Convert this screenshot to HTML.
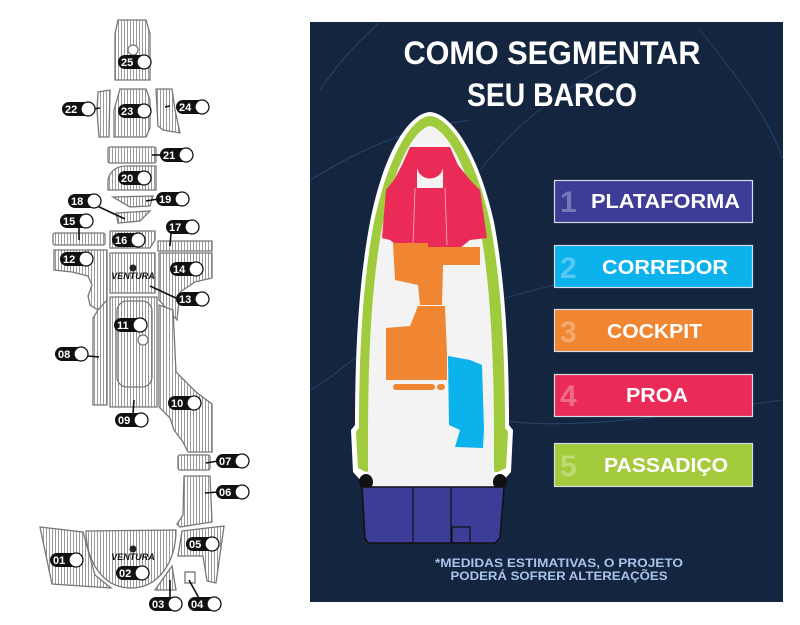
<!DOCTYPE html>
<html><head><meta charset="utf-8"><style>
html,body{margin:0;padding:0;background:#fff;}
svg{display:block;font-family:"Liberation Sans",sans-serif;}
</style></head><body>
<svg width="800" height="625" viewBox="0 0 800 625" xmlns="http://www.w3.org/2000/svg">
<defs>
<pattern id="st" width="3" height="10" patternUnits="userSpaceOnUse">
<rect width="3" height="10" fill="#fff"/><rect x="1" width="1" height="10" fill="#999"/>
</pattern>
<g id="pillc"><circle r="7" fill="#fff" stroke="#111" stroke-width="1.3"/></g>
</defs>
<rect width="800" height="625" fill="#fff"/>

<!-- LEFT DIAGRAM -->
<g fill="url(#st)" stroke="#777" stroke-width="1.3">
<path d="M118,20 L146,20 L150,34 L150,80 L115,80 L115,34 Z"/>
<circle cx="133" cy="50" r="5" fill="#fff"/>
<path d="M98,92 L110,90 L109,137 L99,137 L97,110 Z"/>
<path d="M120,89 L146,89 L150,100 L150,128 L146,137 L114,137 L114,110 Z"/>
<path d="M156,89 L172,89 L175,110 L180,133 L163,130 L158,126 Z"/>
<rect x="108" y="147" width="48" height="16" rx="2"/>
<path d="M108,190 L108,180 C110,170 118,166 126,166 L156,166 L156,190 Z"/>
<path d="M113,197 L153,196 L150,206 L130,207 Z"/>
<path d="M116,213 L150,211 L140,221 L118,223 Z"/>
<rect x="53" y="233" width="52" height="12" rx="2"/>
<path d="M110,231 L155,231 L155,240 L150,248 L110,248 Z"/>
<path d="M158,241 L212,241 L212,251 L158,251 Z"/>
<path d="M54,250 L107,250 L107,300 L98,310 L90,305 L88,296 L92,285 L88,276 L72,272 L54,270 Z"/>
<path d="M110,253 L155,253 L155,293 L110,293 Z"/>
<path d="M159,253 L212,253 L212,278 L195,282 L180,292 L177,320 L159,300 Z"/>
<path d="M98,310 L107,300 L107,405 L93,405 L93,318 Z"/>
<path d="M110,297 L157,297 L157,407 L110,407 Z"/>
<rect x="117" y="301" width="35" height="86" rx="10" fill="url(#st)"/>
<circle cx="143" cy="340" r="5" fill="#fff"/>
<path d="M159,305 L173,310 L176,372 L196,392 L212,404 L212,452 L188,452 L183,442 L174,430 L170,418 L159,407 Z"/>
<rect x="178" y="455" width="32" height="15" rx="2"/>
<path d="M184,476 L210,476 L212,522 L180,527 L177,524 L183,515 Z"/>
<path d="M40,527 L83,532 L95,575 L111,588 L52,584 Z"/>
<path d="M86,531 L176,530 C176,560 160,588 131,588 C102,588 86,560 86,531 Z"/>
<path d="M182,531 L224,526 L216,583 L207,581 L203,556 L178,556 Z"/>
<path d="M172,566 L176,590 L155,590 Z"/>
<rect x="185" y="572" width="10" height="11" fill="#fff"/>
</g>
<g font-size="9" font-weight="bold" font-style="italic" fill="#111" text-anchor="middle">
<text x="133" y="279">VENTURA</text><text x="133" y="560">VENTURA</text>
</g>
<circle cx="133" cy="268" r="3.5" fill="#222"/><circle cx="133" cy="549" r="3.5" fill="#222"/>

<g stroke="#111" stroke-width="1.6">
<line x1="93" y1="109" x2="100" y2="108"/>
<line x1="165" y1="107" x2="170" y2="106"/>
<line x1="152" y1="155" x2="162" y2="155"/>
<line x1="146" y1="201" x2="158" y2="199"/>
<line x1="95" y1="205" x2="125" y2="219"/>
<line x1="79" y1="226" x2="79" y2="240"/>
<line x1="171" y1="233" x2="170" y2="246"/>
<line x1="150" y1="286" x2="178" y2="299"/>
<line x1="88" y1="356" x2="99" y2="357"/>
<line x1="134" y1="400" x2="133" y2="414"/>
<line x1="206" y1="463" x2="218" y2="461"/>
<line x1="205" y1="493" x2="218" y2="492"/>
<line x1="170" y1="580" x2="170" y2="600"/>
<line x1="189" y1="580" x2="200" y2="600"/>
</g>

<g font-size="11" font-weight="bold" fill="#fff">
<g transform="translate(118,62)"><rect x="0" y="-7" width="33" height="14" rx="7" fill="#111"/><use href="#pillc" x="26"/><text x="3" y="4">25</text></g>
<g transform="translate(62,109)"><rect x="0" y="-7" width="33" height="14" rx="7" fill="#111"/><use href="#pillc" x="26"/><text x="3" y="4">22</text></g>
<g transform="translate(118,111)"><rect x="0" y="-7" width="33" height="14" rx="7" fill="#111"/><use href="#pillc" x="26"/><text x="3" y="4">23</text></g>
<g transform="translate(176,107)"><rect x="0" y="-7" width="33" height="14" rx="7" fill="#111"/><use href="#pillc" x="26"/><text x="3" y="4">24</text></g>
<g transform="translate(160,155)"><rect x="0" y="-7" width="33" height="14" rx="7" fill="#111"/><use href="#pillc" x="26"/><text x="3" y="4">21</text></g>
<g transform="translate(118,178)"><rect x="0" y="-7" width="33" height="14" rx="7" fill="#111"/><use href="#pillc" x="26"/><text x="3" y="4">20</text></g>
<g transform="translate(156,199)"><rect x="0" y="-7" width="33" height="14" rx="7" fill="#111"/><use href="#pillc" x="26"/><text x="3" y="4">19</text></g>
<g transform="translate(68,201)"><rect x="0" y="-7" width="33" height="14" rx="7" fill="#111"/><use href="#pillc" x="26"/><text x="3" y="4">18</text></g>
<g transform="translate(60,221)"><rect x="0" y="-7" width="33" height="14" rx="7" fill="#111"/><use href="#pillc" x="26"/><text x="3" y="4">15</text></g>
<g transform="translate(166,227)"><rect x="0" y="-7" width="33" height="14" rx="7" fill="#111"/><use href="#pillc" x="26"/><text x="3" y="4">17</text></g>
<g transform="translate(112,240)"><rect x="0" y="-7" width="33" height="14" rx="7" fill="#111"/><use href="#pillc" x="26"/><text x="3" y="4">16</text></g>
<g transform="translate(60,259)"><rect x="0" y="-7" width="33" height="14" rx="7" fill="#111"/><use href="#pillc" x="26"/><text x="3" y="4">12</text></g>
<g transform="translate(170,269)"><rect x="0" y="-7" width="33" height="14" rx="7" fill="#111"/><use href="#pillc" x="26"/><text x="3" y="4">14</text></g>
<g transform="translate(176,299)"><rect x="0" y="-7" width="33" height="14" rx="7" fill="#111"/><use href="#pillc" x="26"/><text x="3" y="4">13</text></g>
<g transform="translate(114,325)"><rect x="0" y="-7" width="33" height="14" rx="7" fill="#111"/><use href="#pillc" x="26"/><text x="3" y="4">11</text></g>
<g transform="translate(55,354)"><rect x="0" y="-7" width="33" height="14" rx="7" fill="#111"/><use href="#pillc" x="26"/><text x="3" y="4">08</text></g>
<g transform="translate(168,403)"><rect x="0" y="-7" width="33" height="14" rx="7" fill="#111"/><use href="#pillc" x="26"/><text x="3" y="4">10</text></g>
<g transform="translate(115,420)"><rect x="0" y="-7" width="33" height="14" rx="7" fill="#111"/><use href="#pillc" x="26"/><text x="3" y="4">09</text></g>
<g transform="translate(216,461)"><rect x="0" y="-7" width="33" height="14" rx="7" fill="#111"/><use href="#pillc" x="26"/><text x="3" y="4">07</text></g>
<g transform="translate(216,492)"><rect x="0" y="-7" width="33" height="14" rx="7" fill="#111"/><use href="#pillc" x="26"/><text x="3" y="4">06</text></g>
<g transform="translate(186,544)"><rect x="0" y="-7" width="33" height="14" rx="7" fill="#111"/><use href="#pillc" x="26"/><text x="3" y="4">05</text></g>
<g transform="translate(50,560)"><rect x="0" y="-7" width="33" height="14" rx="7" fill="#111"/><use href="#pillc" x="26"/><text x="3" y="4">01</text></g>
<g transform="translate(116,573)"><rect x="0" y="-7" width="33" height="14" rx="7" fill="#111"/><use href="#pillc" x="26"/><text x="3" y="4">02</text></g>
<g transform="translate(149,604)"><rect x="0" y="-7" width="33" height="14" rx="7" fill="#111"/><use href="#pillc" x="26"/><text x="3" y="4">03</text></g>
<g transform="translate(188,604)"><rect x="0" y="-7" width="33" height="14" rx="7" fill="#111"/><use href="#pillc" x="26"/><text x="3" y="4">04</text></g>
</g>

<!-- RIGHT PANEL -->
<rect x="310" y="22" width="473" height="580" fill="#13253f"/>
<g fill="none" stroke="#2f4a6e" stroke-width="1" opacity="0.8">
<path d="M310,180 C360,150 400,130 470,120"/>
<path d="M480,170 C520,120 560,90 620,60"/>
<path d="M310,390 C330,380 350,360 380,340"/>
<path d="M500,300 C560,280 640,270 700,250"/>
<path d="M500,420 C560,430 640,420 783,400"/>
<path d="M700,30 C740,80 770,120 783,160"/>
<path d="M320,90 C340,60 360,40 380,22"/>
</g>
<text x="552" y="64" text-anchor="middle" font-size="32" font-weight="bold" fill="#fff" textLength="297" lengthAdjust="spacingAndGlyphs">COMO SEGMENTAR</text>
<text x="552" y="106" text-anchor="middle" font-size="32" font-weight="bold" fill="#fff" textLength="170" lengthAdjust="spacingAndGlyphs">SEU BARCO</text>

<!-- boat -->
<path d="M430,112 C450,113 478,150 494,222 C505,280 509,350 509,425 L513,430 L511,472 L502,482 L362,482 L353,472 L351,430 L355,425 C355,350 359,280 370,222 C384,150 410,113 430,112 Z" fill="#fff"/>
<path d="M430,116 C448,117 475,153 490,222 C501,280 505,350 505,428 L508,432 L506,468 L498,472 L366,472 L358,468 L356,432 L359,428 C359,350 363,280 374,222 C389,153 412,117 430,116 Z" fill="#9fcb3d"/>
<path d="M430,126 C444,128 466,160 479,222 C490,280 494,350 494,440 L494,470 L500,487 L363,487 L368,470 L368,440 C368,350 372,280 383,222 C396,160 416,128 430,126 Z" fill="#f3f3f3"/>
<ellipse cx="366" cy="482" rx="7" ry="8" fill="#111"/>
<ellipse cx="500" cy="482" rx="7" ry="8" fill="#111"/>
<path d="M410,147 L450,147 L458,165 L470,180 L480,190 L487,238 L470,240 L460,248 L400,248 L390,240 L382,238 L386,190 L394,180 L402,165 Z" fill="#ea2b57"/>
<path d="M417,168 C420,182 440,182 443,168 L443,188 L417,188 Z" fill="#f3f3f3"/>
<g stroke="#f7b0c2" stroke-width="0.8" fill="none"><line x1="415" y1="188" x2="413" y2="245"/><line x1="445" y1="188" x2="447" y2="245"/></g>
<path d="M393,243 L428,243 L428,247 L480,247 L480,265 L443,265 L442,305 L420,305 L418,285 L395,280 Z" fill="#f08631"/>
<path d="M418,306 L445,306 L447,355 L447,380 L386,380 L386,328 L410,326 Z" fill="#f08631"/>
<rect x="393" y="384" width="42" height="6" rx="3" fill="#f08631"/>
<rect x="437" y="384" width="8" height="6" rx="3" fill="#f08631"/>
<path d="M448,356 L470,360 L482,365 L484,430 L483,448 L455,447 L460,430 L449,425 Z" fill="#0cb2ec"/>
<path d="M362,487 L504,487 L500,538 L495,543 L368,543 L365,538 Z" fill="#3d3c97" stroke="#111" stroke-width="1.5"/>
<g stroke="#111" stroke-width="1.2"><line x1="413" y1="487" x2="413" y2="543"/><line x1="451" y1="487" x2="451" y2="543"/></g>
<rect x="452" y="527" width="18" height="16" fill="none" stroke="#111" stroke-width="1.2"/>

<!-- buttons -->
<g stroke="#d6dbe4" stroke-width="1.2">
<rect x="554.5" y="180.5" width="198" height="42" fill="#3d3c97"/>
<rect x="554.5" y="245.5" width="198" height="42" fill="#0cb2ec"/>
<rect x="554.5" y="309.5" width="198" height="42" fill="#f08631"/>
<rect x="554.5" y="374.5" width="198" height="42" fill="#ea2b57"/>
<rect x="554.5" y="443.5" width="198" height="43" fill="#a3cb3b"/>
</g>
<g font-size="30" font-weight="bold" fill="#fff" opacity="0.3">
<text x="560" y="212">1</text><text x="560" y="278">2</text><text x="560" y="342">3</text><text x="560" y="406">4</text><text x="560" y="476">5</text>
</g>
<g font-size="20" font-weight="bold" fill="#fff">
<text x="591" y="208" textLength="149" lengthAdjust="spacingAndGlyphs">PLATAFORMA</text>
<text x="602" y="274" textLength="126" lengthAdjust="spacingAndGlyphs">CORREDOR</text>
<text x="607" y="338" textLength="95" lengthAdjust="spacingAndGlyphs">COCKPIT</text>
<text x="626" y="402" textLength="62" lengthAdjust="spacingAndGlyphs">PROA</text>
<text x="604" y="472" textLength="124" lengthAdjust="spacingAndGlyphs">PASSADIÇO</text>
</g>
<g font-size="12" font-weight="bold" fill="#a9c4ec" text-anchor="middle">
<text x="559" y="567" textLength="248" lengthAdjust="spacingAndGlyphs">*MEDIDAS ESTIMATIVAS, O PROJETO</text>
<text x="559" y="580" textLength="217" lengthAdjust="spacingAndGlyphs">PODERÁ SOFRER ALTEREAÇÕES</text>
</g>
</svg>
</body></html>
